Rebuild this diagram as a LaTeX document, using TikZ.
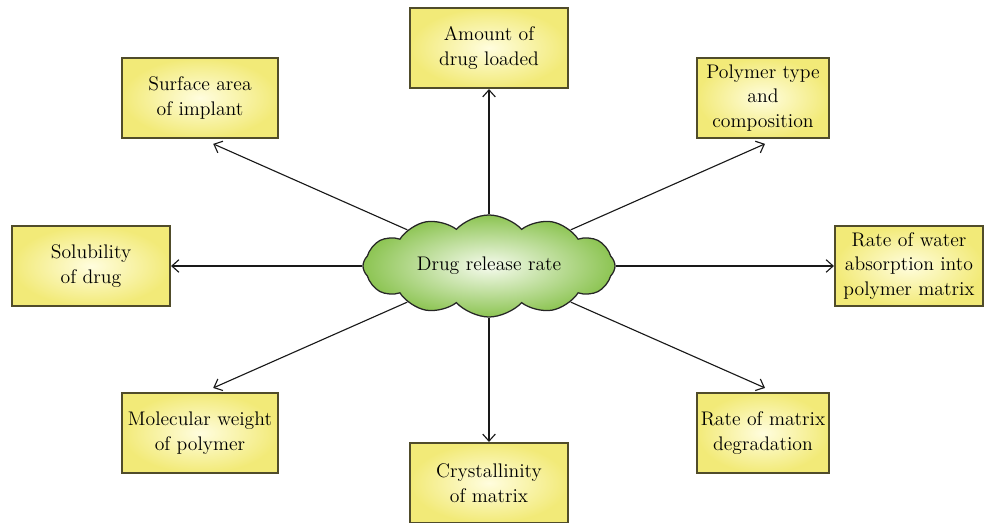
\documentclass[tikz,border=0pt]{standalone}
\usepackage{tikz}
\usetikzlibrary{shapes.symbols}
\usetikzlibrary{arrows.meta}
\definecolor{boxin}{RGB}{255,253,222}
\definecolor{boxout}{RGB}{242,234,120}
\definecolor{boxline}{RGB}{80,76,42}
\definecolor{cloudin}{RGB}{246,251,238}
\definecolor{cloudout}{RGB}{140,196,82}
\tikzset{
  factor/.style={
    draw=boxline, line width=1.5pt, shading=radial,
    inner color=boxin, outer color=boxout,
    minimum height=2cm, align=center, inner sep=2pt,
    font=\fontsize{14}{17.5}\selectfont
  },
  centre/.style={
    cloud, cloud puffs=12, cloud puff arc=95, aspect=2.6,
    draw=black!85, line width=0.9pt, shading=radial,
    inner color=cloudin, outer color=cloudout,
    minimum width=6.3cm, minimum height=2.55cm, inner sep=0pt,
    font=\fontsize{14}{17.5}\selectfont
  },
  link/.style={
    line width=0.8pt, black!90, -{Straight Barb[length=5pt,width=9pt]}
  }
}
\begin{document}
\begin{tikzpicture}[x=0.025cm, y=-0.025cm]
\useasboundingbox (0,0) rectangle (984,523);

%%%%%%%%%%%%%%%%%%%%%%%%%%%%%%%%%%%%%%%%%%%%%%%%%%%%%%%%%%%%%% centre
\node[centre] (rate) at (489,266) {Drug release rate};

%%%%%%%%%%%%%%%%%%%%%%%%%%%%%%%%%%%%%%%%%%%%%%%%%%%%%%%%%%%%%% boxes
\node[factor, minimum width=3.95cm] (load)  at (489,48)  {Amount of\\drug loaded};
\node[factor, minimum width=3.9cm]  (surf)  at (200,98)  {Surface area\\of implant};
\node[factor, minimum width=3.3cm]  (poly)  at (763,98)  {Polymer type\\and\\composition};
\node[factor, minimum width=3.95cm] (sol)   at (91,266)  {Solubility\\of drug};
\node[factor, minimum width=3.7cm]  (water) at (909,266) {Rate of water\\absorption into\\polymer matrix};
\node[factor, minimum width=3.9cm]  (mol)   at (200,433) {Molecular weight\\of polymer};
\node[factor, minimum width=3.95cm] (cryst) at (489,483) {Crystallinity\\of matrix};
\node[factor, minimum width=3.3cm]  (degr)  at (763,433) {Rate of matrix\\degradation};

%%%%%%%%%%%%%%%%%%%%%%%%%%%%%%%%%%%%%%%%%%%%%%%%%%%%%%%%%%%%%% arrows
\coordinate (tipsurf) at ([xshift=0.33cm,yshift=-0.12cm]surf.south);
\coordinate (tippoly) at ([xshift=0.05cm,yshift=-0.12cm]poly.south);
\coordinate (tipmol)  at ([xshift=0.33cm,yshift=0.1cm]mol.north);
\coordinate (tipdegr) at ([xshift=0.05cm,yshift=0.1cm]degr.north);

\draw[link] (rate) -- (load.south);
\draw[link] (rate) -- (cryst.north);
\draw[link] (rate) -- (sol.east);
\draw[link] (rate) -- (water.west);
\draw[link] (rate) -- (tipsurf);
\draw[link] (rate) -- (tippoly);
\draw[link] (rate) -- (tipmol);
\draw[link] (rate) -- (tipdegr);

\end{tikzpicture}
\end{document}
